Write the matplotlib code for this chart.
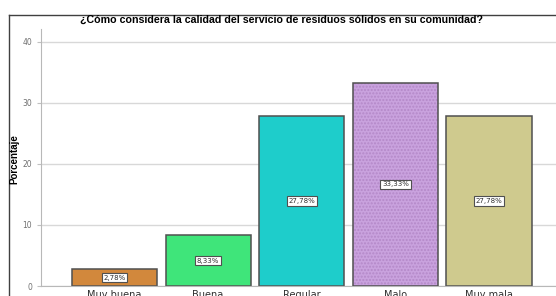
import matplotlib.pyplot as plt
from matplotlib.lines import Line2D

categorias = ['Muy buena', 'Buena', 'Regular', 'Malo', 'Muy mala']
porcentajes = [2.78, 8.33, 27.78, 33.33, 27.78]
etiquetas = ['2,78%', '8,33%', '27,78%', '33,33%', '27,78%']
colores = ['#D2883C', '#3FE57A', '#1ECDCB', '#C9A2DE', '#CFCA8E']
y_ticks = [0, 10, 20, 30, 40]

fig = plt.figure(figsize=(5.56, 2.96), dpi=100)
ax = fig.add_axes([41 / 556, 10 / 296, 521.5 / 556, 257 / 296])

x = list(range(len(categorias)))
for i, (v, c) in enumerate(zip(porcentajes, colores)):
    if categorias[i] == 'Malo':
        # dotted fill, then dark outline on top
        ax.bar(i, v, width=0.91, color=c, edgecolor='#B488C8', hatch='.....', linewidth=0, zorder=2)
        ax.bar(i, v, width=0.91, fill=False, edgecolor='#505050', linewidth=1.1, zorder=3)
    else:
        ax.bar(i, v, width=0.91, color=c, edgecolor='#505050', linewidth=1.1, zorder=2)

# value labels in the middle of each bar
for i, (v, t) in enumerate(zip(porcentajes, etiquetas)):
    ax.text(i, v / 2, t, ha='center', va='center', fontsize=5, color='#303030', zorder=4,
            bbox=dict(boxstyle='square,pad=0.25', facecolor='white', edgecolor='#505050', linewidth=0.8))

ax.set_xlim(-0.785, 4.785)
ax.set_ylim(0, 42.1)
ax.set_yticks(y_ticks)
ax.set_xticks(x)
ax.set_xticklabels(categorias, fontsize=7, color='#303030')
ax.tick_params(axis='y', labelsize=5.5, labelcolor='#707070', length=3, color='#C0C0C0')
ax.tick_params(axis='x', length=0, pad=3)
ax.grid(axis='y', color='#D8D8D8', linewidth=1, zorder=0)
ax.set_axisbelow(True)
for s in ['top', 'right']:
    ax.spines[s].set_visible(False)
ax.spines['left'].set_color('#B8B8B8')
ax.spines['bottom'].set_color('#B8B8B8')

fig.text(282 / 556, 1 - 20 / 296, '¿Cómo considera la calidad del servicio de residuos sólidos en su comunidad?',
         ha='center', va='center', fontsize=7.7, fontweight='bold', family='Liberation Sans')
fig.text(14 / 556, 1 - 159 / 296, 'Porcentaje', rotation=90, ha='center', va='center',
         fontsize=7, fontweight='bold', family='Liberation Sans')

# outer frame lines (top and left)
fig.add_artist(Line2D([9 / 556, 1], [1 - 15 / 296, 1 - 15 / 296], color='#404040', linewidth=1))
fig.add_artist(Line2D([9 / 556, 9 / 556], [0, 1 - 15 / 296], color='#404040', linewidth=1))

fig.savefig('out.png', dpi=100)
